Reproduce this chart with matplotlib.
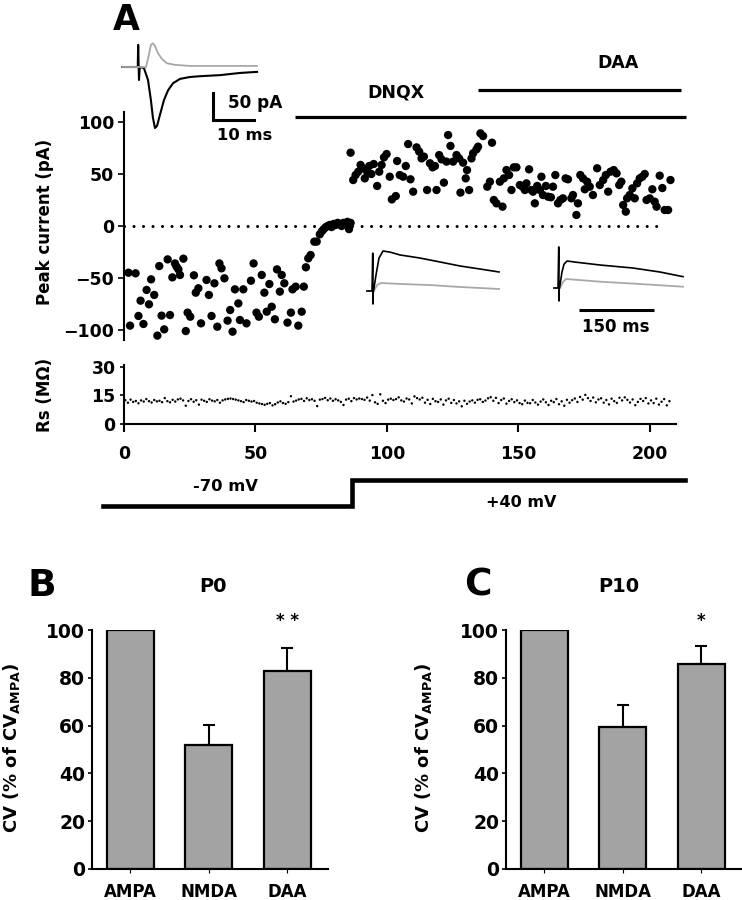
import matplotlib
import numpy as np

matplotlib.use("Agg")
import matplotlib.pyplot as plt

plt.rcParams["font.family"] = ["DejaVu Sans"]
plt.rcParams["font.weight"] = "bold"
plt.rcParams["mathtext.default"] = "bf"

W, H = 742, 900  # output size in px (dpi=100)

# ---------------- panel A: peak current per sweep ----------------
# -70 mV, AMPA phase
AMPA_T = [2.3, 1.7, 4.4, 5.5, 6.3, 7.4, 8.6, 9.5, 10.3, 11.5, 12.7, 13.4, 14.3, 15.3,
          16.6, 17.5, 18.4, 19.4, 20.0, 20.7, 21.3, 22.6, 23.5, 24.2, 25.2, 26.6, 27.3,
          28.3, 29.3, 31.4, 32.3, 33.3, 34.4, 35.5, 36.3, 37.1, 38.2, 39.4, 40.4, 41.3,
          42.2, 43.5, 44.1, 45.4, 46.6, 48.3, 49.3, 50.4, 51.3, 52.4, 53.4, 54.3, 55.3,
          56.2, 57.4, 58.2, 59.3, 60.0, 61.0, 62.2, 63.5, 64.1, 65.3, 66.3, 67.6, 68.4]
AMPA_I = [-95.8, -44.9, -45.5, -86.5, -71.8, -94.2, -61.5, -75.3, -51.3, -66.3, -105.4,
          -38.5, -86.2, -99.4, -32.1, -85.6, -49.4, -36.0, -39.1, -41.7, -47.1, -31.4,
          -101.0, -83.3, -87.2, -47.4, -64.1, -59.9, -93.6, -51.9, -66.3, -86.5, -55.1,
          -96.8, -36.0, -40.7, -50.3, -91.0, -80.8, -101.6, -60.9, -74.4, -90.4, -60.9,
          -93.6, -52.6, -36.0, -83.3, -87.2, -47.1, -64.1, -82.4, -55.8, -77.6, -89.7,
          -41.7, -63.1, -47.1, -55.1, -92.9, -83.3, -60.9, -58.3, -95.8, -82.4, -58.3]
# DNQX wash-in, still at -70 mV
WASH_T = [69.2, 70.1, 71.0, 72.4, 73.3, 74.5, 75.3, 76.0, 76.8, 77.5, 78.3, 79.0, 79.8,
          80.5, 81.3, 82.0, 82.8, 83.5, 84.3, 85.0, 85.6, 86.2]
WASH_I = [-39.7, -31.1, -27.9, -15.1, -15.0, -8.0, -5.0, -3.0, -1.0, 0.0, 1.0, -1.0, 2.0,
          1.0, 3.0, 2.0, 0.0, 3.0, 1.0, 4.0, -3.0, 3.0]
# +40 mV, NMDA phase (DNQX, then DAA)
NMDA_T = [86.2, 87.2, 88.1, 89.1, 90.0, 90.8, 91.6, 92.5, 93.3, 94.1, 95.0, 96.3, 97.1,
          98.0, 98.9, 99.9, 101.1, 101.9, 103.4, 103.9, 104.9, 106.2, 107.2, 108.1,
          109.0, 110.0, 111.3, 112.3, 113.2, 114.1, 115.3, 116.4, 117.4, 118.3, 118.9,
          119.9, 120.8, 121.7, 122.7, 123.3, 124.2, 125.2, 126.5, 127.5, 128.0, 129.0,
          130.0, 130.5, 131.3, 132.2, 132.8, 134.1, 134.7, 135.6, 136.6, 138.2, 139.2,
          140.0, 140.7, 141.7,
          143.0, 144.0, 144.5, 145.5, 146.5, 147.4, 148.3, 149.3, 150.6, 151.6, 152.5,
          153.1, 154.1, 155.0, 155.6, 156.3, 157.2, 158.2, 158.8, 159.4, 160.5, 161.3,
          162.4, 163.2, 164.1, 165.1, 166.0, 167.0, 168.0, 168.9, 170.2, 170.8, 172.1,
          172.7, 173.6, 174.6, 175.3, 176.2, 177.2, 178.4, 180.0, 181.0, 182.3, 183.3,
          184.2, 185.1, 186.3, 187.4, 188.4, 189.2, 189.9, 190.9, 191.4, 192.4, 193.4,
          194.3, 195.2, 196.2, 197.2, 198.1, 198.8, 200.0, 201.0, 201.9, 202.6, 203.8,
          204.8, 205.7, 207.0, 207.9]
NMDA_I = [70.5, 44.2, 49.0, 52.2, 58.7, 55.5, 45.8, 52.2, 57.7, 50.0, 59.6, 38.5, 52.2,
          58.7, 66.0, 69.2, 47.4, 25.6, 28.8, 62.5, 49.0, 47.4, 57.7, 78.8, 44.9, 33.0,
          75.6, 71.5, 65.0, 66.7, 34.6, 60.3, 56.4, 57.7, 34.6, 68.2, 64.1, 41.7, 61.9,
          87.5, 77.0, 61.9, 68.2, 65.0, 32.1, 60.9, 45.8, 53.8, 34.6, 65.0, 69.9, 73.7,
          76.3, 89.1, 86.5, 37.8, 42.6, 80.1, 25.0, 21.8,
          42.6, 18.6, 45.8, 53.8, 49.0, 34.6, 56.4, 56.4, 39.4, 37.8, 34.6, 41.0, 54.5,
          34.6, 33.0, 21.8, 38.5, 34.6, 47.4, 29.8, 38.5, 28.2, 27.6, 37.8, 49.0, 21.8,
          25.0, 26.6, 45.8, 44.9, 26.6, 29.8, 10.6, 21.8, 49.0, 45.8, 35.3, 42.6, 37.8,
          29.8, 55.5, 39.4, 44.2, 49.0, 33.0, 52.2, 53.8, 50.6, 39.4, 42.6, 20.2, 13.8,
          26.6, 29.8, 36.2, 26.6, 41.0, 45.8, 47.4, 50.0, 25.0, 26.6, 35.3, 23.4, 18.6,
          48.4, 36.5, 15.4, 15.4, 44.2]

# series resistance, one value per sweep (1 s apart)
RS_MOHM = [12.5, 11.2, 12.8, 11.6, 12.1, 10.9, 12.4, 11.8, 13.1, 12.0,
           11.3, 12.6, 11.9, 12.2, 11.5, 13.6, 12.0, 11.4, 12.7, 11.8,
           12.9, 13.3, 12.4, 9.6, 12.1, 13.0, 11.7, 12.5, 10.2, 12.8,
           12.2, 11.6, 13.0, 12.3, 11.9, 12.6, 11.2, 12.4, 12.9, 13.2,
           13.4, 13.1, 12.8, 12.4, 12.0, 11.5, 12.6, 12.2, 11.8, 12.1,
           11.2, 10.8, 10.5, 10.1, 10.6, 11.0, 9.8, 10.4, 11.3, 11.9,
           11.0, 10.6, 11.5, 14.6, 11.8, 12.3, 12.9, 13.2, 12.1, 13.5,
           12.6, 13.0, 12.2, 9.4, 12.8, 13.1, 13.7, 12.5, 13.4, 12.2,
           13.0, 12.4, 11.6, 10.0, 12.8, 13.3, 12.0, 13.6, 12.9, 13.4,
           13.1, 12.7, 13.9, 12.3, 15.2, 11.4, 10.6, 15.6, 12.2, 11.0,
           12.8, 13.3, 12.6, 13.1, 14.0, 12.4, 11.8, 13.4, 12.9, 10.8,
           14.5, 13.6, 12.9, 13.8, 11.2, 12.7, 10.5, 13.2, 12.0, 11.6,
           12.9, 10.2, 12.4, 13.3, 11.1, 12.6, 10.8, 11.9, 9.3, 12.2,
           10.6, 11.8, 12.4, 11.2, 12.7, 13.0, 11.6, 12.3, 13.5, 14.1,
           12.2, 13.7, 11.0, 12.6, 13.4, 10.7, 12.1, 13.0, 11.5, 12.4,
           11.0, 10.4, 12.3, 11.1, 10.9, 12.6, 11.3, 10.2, 11.8, 12.9,
           11.4, 10.0, 12.2, 11.5, 13.1, 10.4, 11.9, 9.6, 12.7, 11.2,
           12.5, 13.4, 11.6, 14.2, 12.8, 15.3, 13.6, 12.1, 13.9, 11.4,
           12.9, 13.5, 11.2, 12.6, 10.3, 13.3, 12.0, 11.1, 13.8, 12.4,
           14.0, 12.7, 11.3, 12.9, 9.9, 11.6, 13.2, 12.1, 13.6, 10.8,
           12.4, 11.0, 13.3, 10.2, 11.7, 13.1, 9.8, 12.0]
RS_FIRST_T = 0.5
RS_INTERVAL = 1.0

# drug applications (start, end in s) and holding potential steps
DRUGS = ["DNQX", "DAA"]
DRUG_ON = [65.0, 134.6]
DRUG_OFF = [213.7, 211.9]
HOLD_T = [-7.9, 86.5, 86.5, 213.2]
HOLD_MV = [-70, -70, 40, 40]

# example traces (ms, pA); AMPA sweep at -70 mV, black = control, grey = DNQX
FAST_CTRL_T = [-4.1, -0.3, -0.2, 0.0, 0.2, 1.2, 2.2, 2.9, 3.4, 3.9, 4.4, 5.1, 6.1, 7.1,
               8.3, 10.0, 12.4, 14.9, 19.8, 24.6, 28.8]
FAST_CTRL_PA = [0, 0, 41, -24, 0, -1.9, -24, -61, -94, -113, -109, -89, -61, -43, -30,
                -22, -18.5, -17, -15, -11, -9]
FAST_DNQX_T = [-4.1, 1.7, 2.4, 2.9, 3.4, 3.9, 4.6, 5.6, 6.8, 8.8, 12.4, 28.8]
FAST_DNQX_PA = [0, 0, 22, 41, 44, 39, 26, 15, 7, 4, 2, 2]
# NMDA sweeps at +40 mV: in DNQX (left) and DNQX + DAA (right); grey = unblocked part
SLOW1_T = [-12, -2, -0.5, 0, 0.5, 1, 6, 12, 20, 34, 54, 94, 134, 174, 214, 252]
SLOW1_PA = [0, 0, 70, -24, 0, 0, 29.6, 61, 74, 72, 66.7, 61, 53.7, 46.3, 40.7, 35.2]
SLOW1G_T = [-12, 2, 8, 16, 54, 114, 174, 252]
SLOW1G_PA = [0, 0, 11, 14.8, 13, 11, 7.4, 3.7]
SLOW2_T = [-10, -2, -0.5, 0, 0.5, 1, 6, 10, 16, 32, 82, 148, 202, 248]
SLOW2_PA = [0, 0, 76, -24, 0, 0, 29.6, 44, 50, 48, 42.6, 37, 29.6, 21]
SLOW2G_T = [-10, 2, 8, 14, 82, 162, 248]
SLOW2G_PA = [0, 0, 11, 16.7, 11.7, 7.4, 2.4]

# ---------------- panels B, C: CV ratio ----------------
CATS = ["AMPA", "NMDA", "DAA"]
P0_MEAN = [100, 52, 83]
P0_SEM = [0, 8.3, 9.5]
P0_SIG = ["", "", "* *"]
P10_MEAN = [100, 59.5, 85.8]
P10_SEM = [0, 9.0, 7.5]
P10_SIG = ["", "", "*"]

GREY = "#a3a3a3"
TRACE_GREY = "#a8a8a8"


def px_box(x0, y0, x1, y1):
    """pixel box (top-left origin) -> figure fraction rect"""
    return [x0 / W, 1 - y1 / H, (x1 - x0) / W, (y1 - y0) / H]


def fig_text(fig, x, y, s, **kw):
    kw.setdefault("ha", "center")
    kw.setdefault("va", "center")
    fig.text(x / W, 1 - y / H, s, fontweight="bold", **kw)


def bar_panel(fig, box, means, sems, sig, title, title_x, letter, letter_x, ylabel_x):
    ax = fig.add_axes(px_box(*box))
    x = np.arange(len(CATS))
    # only the categories with a spread get an (upper) error bar
    has_err = [i for i, e in enumerate(sems) if e > 0]
    ax.errorbar(x[has_err], [means[i] for i in has_err],
                yerr=[np.zeros(len(has_err)), [sems[i] for i in has_err]], fmt="none",
                ecolor="black", elinewidth=1.5, capsize=4, capthick=1.5, zorder=1,
                clip_on=False)
    ax.bar(x, means, width=0.6, color=GREY, edgecolor="black", linewidth=1.6, zorder=2)
    for xi, s in zip(x, sig):
        if s:
            ax.text(xi, 100.0, s, ha="center", va="bottom", fontsize=12, fontweight="bold")
    ax.set_xlim(-0.49, 2.52)
    ax.set_ylim(0, 100)
    ax.set_yticks([0, 20, 40, 60, 80, 100])
    ax.set_xticks(x)
    ax.set_xticklabels(CATS)
    for side in ("top", "right"):
        ax.spines[side].set_visible(False)
    for side in ("left", "bottom"):
        ax.spines[side].set_linewidth(1.5)
    ax.tick_params(axis="y", direction="out", length=3, width=1.2, pad=2, labelsize=13.5)
    ax.tick_params(axis="x", direction="out", length=3, width=0.8, pad=7, labelsize=12)
    for lab in ax.get_xticklabels() + ax.get_yticklabels():
        lab.set_fontweight("bold")
    fig_text(fig, title_x, 586, title, fontsize=14)
    fig_text(fig, letter_x, 586, letter, fontsize=27)
    fig_text(fig, ylabel_x, 748, "CV (% of CV$_{\\mathbf{AMPA}}$)", fontsize=13, rotation=90)
    return ax


def main():
    fig = plt.figure(figsize=(W / 100, H / 100), dpi=100)

    # --- A: scatter of peak currents ---
    ax = fig.add_axes(px_box(124, 111.6, 676, 340.4))
    ax.plot([0, 203], [0, 0], color="black", linestyle=(0, (0.01, 3.1)), linewidth=2.2,
            dash_capstyle="round")
    for t, i in ((AMPA_T, AMPA_I), (WASH_T, WASH_I), (NMDA_T, NMDA_I)):
        ax.scatter(t, i, s=36, color="black", edgecolors="none", zorder=3)
    for name, on, off, y_line, y_txt, x_txt in zip(DRUGS, DRUG_ON, DRUG_OFF,
                                                   [104.8, 130.8], [127.9, 156.7],
                                                   [103.5, 188.0]):
        ax.plot([on, off], [y_line, y_line], color="black", linewidth=2.3, clip_on=False,
                solid_capstyle="butt")
        ax.text(x_txt, y_txt, name, ha="center", va="center", fontsize=12.5,
                fontweight="bold", clip_on=False)
    ax.set_xlim(0, 210)
    ax.set_ylim(-110, 110)
    ax.set_yticks([-100, -50, 0, 50, 100])
    ax.set_xticks([])
    for side in ("top", "right", "bottom"):
        ax.spines[side].set_visible(False)
    ax.spines["left"].set_linewidth(1.5)
    ax.tick_params(axis="y", direction="out", length=4, width=1.2, pad=3, labelsize=12.5)
    for lab in ax.get_yticklabels():
        lab.set_fontweight("bold")
    fig_text(fig, 45, 222, "Peak current (pA)", fontsize=12, rotation=90)
    fig_text(fig, 126, 30, "A", fontsize=25, va="baseline")

    # --- A: series resistance ---
    ax_rs = fig.add_axes(px_box(124, 365, 676, 424))
    rs_t = RS_FIRST_T + RS_INTERVAL * np.arange(len(RS_MOHM))
    ax_rs.scatter(rs_t, RS_MOHM, s=3, color="black", edgecolors="none")
    ax_rs.set_xlim(0, 210)
    ax_rs.set_ylim(0, 31)
    ax_rs.set_yticks([0, 15, 30])
    ax_rs.set_xticks([0, 50, 100, 150, 200])
    for side in ("top", "right"):
        ax_rs.spines[side].set_visible(False)
    for side in ("left", "bottom"):
        ax_rs.spines[side].set_linewidth(1.5)
    ax_rs.tick_params(axis="y", direction="out", length=3, width=1.2, pad=3, labelsize=12.5)
    ax_rs.tick_params(axis="x", direction="out", length=6, width=1.5, pad=9, labelsize=12.5)
    for lab in ax_rs.get_xticklabels() + ax_rs.get_yticklabels():
        lab.set_fontweight("bold")
    fig_text(fig, 45, 395, "Rs (M\u03a9)", fontsize=12, rotation=90)

    # --- A: holding potential ---
    ax_v = fig.add_axes(px_box(95, 470, 700, 520))
    ax_v.plot(HOLD_T, HOLD_MV, color="black", linewidth=3.3, solid_joinstyle="miter")
    ax_v.set_xlim(-11.03, 219.0)
    ax_v.set_ylim(-129.2, 82.3)
    ax_v.axis("off")
    ax_v.text(38.5, 10.4, "-70 mV", ha="center", va="center", fontsize=11.8, fontweight="bold")
    ax_v.text(150.9, -53.1, "+40 mV", ha="center", va="center", fontsize=11.5,
              fontweight="bold")

    # --- A: example traces ---
    ax_f = fig.add_axes(px_box(115, 35, 290, 145))
    ax_f.plot(FAST_CTRL_T, FAST_CTRL_PA, color="black", linewidth=1.5)
    ax_f.plot(FAST_DNQX_T, FAST_DNQX_PA, color=TRACE_GREY, linewidth=1.3)
    ax_f.plot([18.05, 18.05, 28.05], [-48.1, -98.1, -98.1], color="black", linewidth=2.2,
              solid_joinstyle="miter")
    ax_f.text(21.7, -66.7, "50 pA", ha="left", va="center", fontsize=12.2, fontweight="bold")
    ax_f.text(19.0, -126, "10 ms", ha="left", va="center", fontsize=11.8, fontweight="bold")
    ax_f.set_xlim(-5.85, 36.83)
    ax_f.set_ylim(-144.4, 59.3)
    ax_f.axis("off")

    ax_s1 = fig.add_axes(px_box(360, 240, 505, 310))
    ax_s1.plot(SLOW1G_T, SLOW1G_PA, color=TRACE_GREY, linewidth=1.3)
    ax_s1.plot(SLOW1_T, SLOW1_PA, color="black", linewidth=1.2)
    ax_s1.set_xlim(-26, 264)
    ax_s1.set_ylim(-35.2, 94.4)
    ax_s1.axis("off")

    ax_s2 = fig.add_axes(px_box(548, 240, 690, 340))
    ax_s2.plot(SLOW2G_T, SLOW2G_PA, color=TRACE_GREY, linewidth=1.3)
    ax_s2.plot(SLOW2_T, SLOW2_PA, color="black", linewidth=1.2)
    ax_s2.plot([40, 190], [-40.7, -40.7], color="black", linewidth=2.2, solid_capstyle="butt")
    ax_s2.text(114, -72.2, "150 ms", ha="center", va="center", fontsize=12, fontweight="bold")
    ax_s2.set_xlim(-22, 262)
    ax_s2.set_ylim(-96.3, 88.9)
    ax_s2.axis("off")

    # --- B, C ---
    bar_panel(fig, (92, 630, 328, 869), P0_MEAN, P0_SEM, P0_SIG, "P0", 213, "B", 42, 12)
    bar_panel(fig, (506, 630, 742, 869), P10_MEAN, P10_SEM, P10_SIG, "P10", 619, "C", 478, 424)

    fig.savefig("out.png", dpi=100)
    plt.close(fig)


if __name__ == "__main__":
    main()
